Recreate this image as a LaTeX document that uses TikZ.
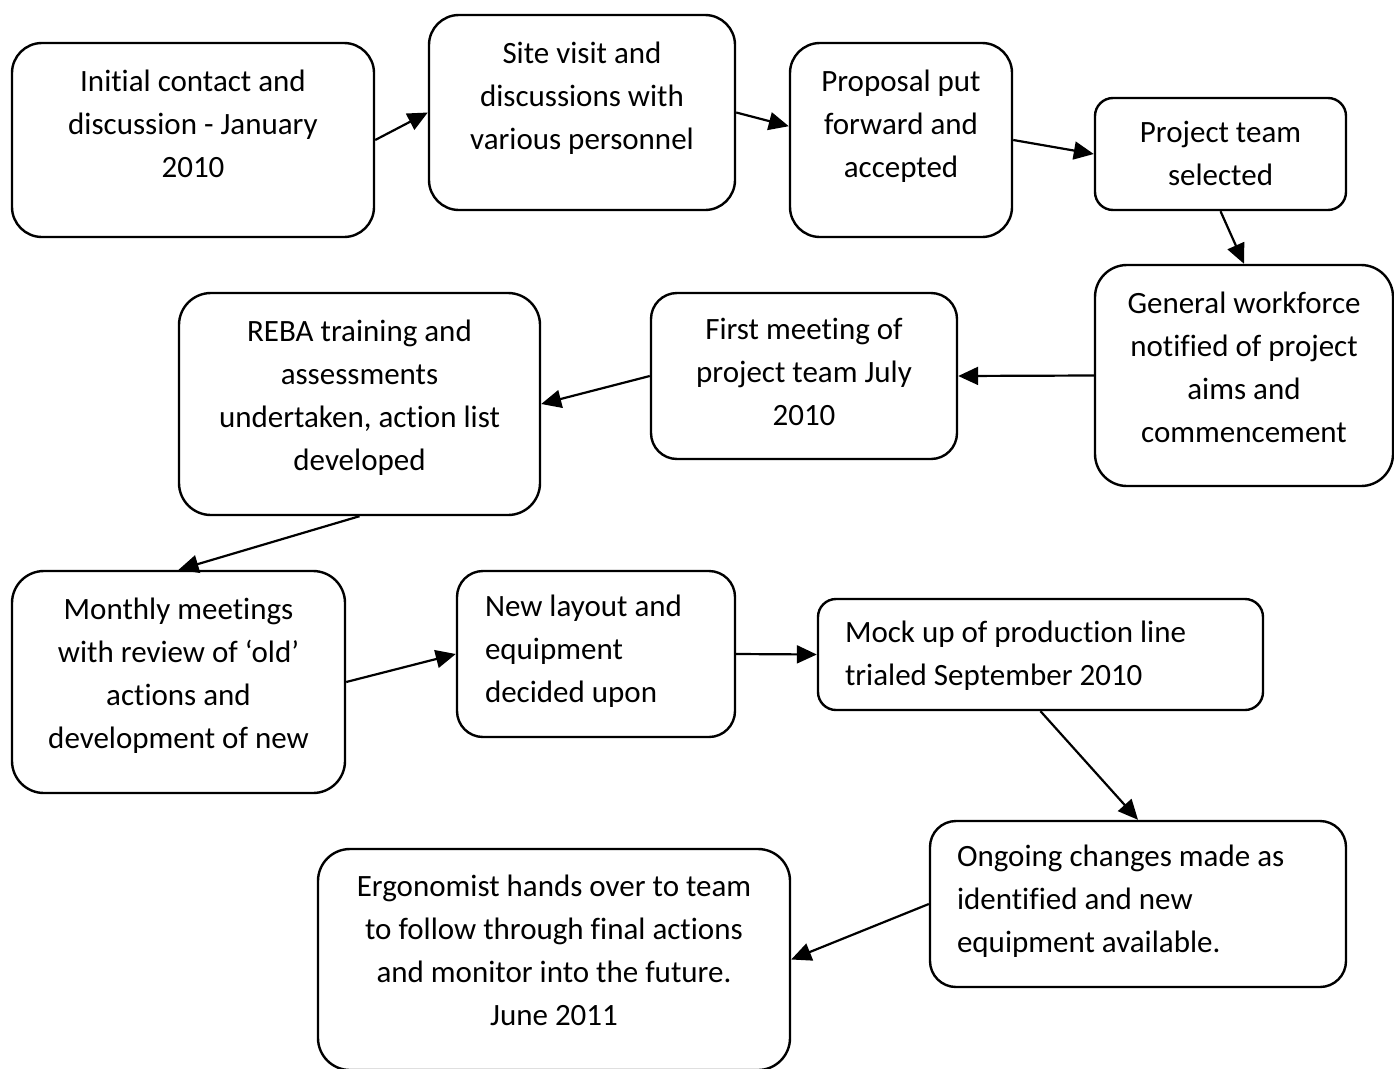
\documentclass[tikz,border=0pt]{standalone}
\usepackage{fontspec}
\setmainfont{Carlito}[Ligatures=NoCommon]
\usetikzlibrary{arrows.meta,positioning}

\begin{document}
\begin{tikzpicture}[
  x=1pt,y=-1pt,
  stepbox/.style={draw,line width=2.4pt,rounded corners=#1},
  stepbox/.default=30pt,
  steptext/.style={inner sep=0pt,align=center,font=\fontsize{31}{43}\selectfont},
  lefttext/.style={steptext,align=left},
  flow/.style={-{Triangle[length=20pt,width=18pt]},line width=2.2pt}
]
  \useasboundingbox (0,0) rectangle (1394,1068);

  \node[stepbox,minimum width=362pt,minimum height=194pt] (contact) at (193,140) {};
  \node[stepbox,minimum width=306pt,minimum height=195pt] (site) at (582,112.5) {};
  \node[stepbox,minimum width=222pt,minimum height=194pt] (proposal) at (901,140) {};
  \node[stepbox=18pt,minimum width=251pt,minimum height=112pt] (team) at (1220.5,154) {};
  \node[stepbox=32pt,minimum width=298pt,minimum height=221pt] (workforce) at (1244,375.5) {};
  \node[stepbox=26pt,minimum width=306pt,minimum height=166pt] (first) at (804,376) {};
  \node[stepbox=32pt,minimum width=361pt,minimum height=222pt] (reba) at (359.5,404) {};
  \node[stepbox=32pt,minimum width=333pt,minimum height=222pt] (monthly) at (178.5,682) {};
  \node[stepbox=26pt,minimum width=278pt,minimum height=166pt] (layout) at (596,654) {};
  \node[stepbox=18pt,minimum width=445pt,minimum height=111pt] (mockup) at (1040.5,654.5) {};
  \node[stepbox=26pt,minimum width=416pt,minimum height=166pt] (ongoing) at (1138,904) {};
  \node[stepbox=32pt,minimum width=472pt,minimum height=221pt] (ergo) at (554,959.5) {};

  \node[steptext,below=28pt of contact.north] (contact-t) {Initial contact and\\discussion - January\\2010};
  \node[steptext,below=28pt of site.north] (site-t) {Site visit and\\discussions with\\various personnel};
  \node[steptext,below=28pt of proposal.north] (proposal-t) {Proposal put\\forward and\\accepted};
  \node[steptext,below=24pt of team.north] (team-t) {Project team\\selected};
  \node[steptext,below=28pt of workforce.north] (workforce-t) {General workforce\\notified of project\\aims and\\commencement};
  \node[steptext,below=26pt of first.north] (first-t) {First meeting of\\project team July\\2010};
  \node[steptext,below=28pt of reba.north] (reba-t) {REBA training and\\assessments\\undertaken, action list\\developed};
  \node[steptext,below=28pt of monthly.north] (monthly-t) {Monthly meetings\\with review of ‘old’\\actions and\\development of new};
  \node[lefttext,below right=25pt and 29pt of layout.north west] (layout-t) {New layout and\\equipment\\decided upon};
  \node[lefttext,below right=23pt and 28pt of mockup.north west] (mockup-t) {Mock up of production line\\trialed September 2010};
  \node[lefttext,below right=25pt and 28pt of ongoing.north west] (ongoing-t) {Ongoing changes made as\\identified and new\\equipment available.};
  \node[steptext,below=27pt of ergo.north] (ergo-t) {Ergonomist hands over to team\\to follow through final actions\\and monitor into the future.\\June 2011};

  \draw[flow] (contact.east) -- (site.west);
  \draw[flow] (site.east) -- (proposal.173);
  \draw[flow] (proposal.east) -- (team.west);
  \draw[flow] (team.south) -- (workforce.north);
  \draw[flow] (workforce.west) -- (first.east);
  \draw[flow] (first.west) -- (reba.east);
  \draw[flow] (reba.south) -- (monthly.north);
  \draw[flow] (monthly.east) -- (layout.west);
  \draw[flow] (layout.east) -- (mockup.west);
  \draw[flow] (mockup.south) -- (ongoing.north);
  \draw[flow] (ongoing.west) -- (ergo.east);
\end{tikzpicture}
\end{document}
